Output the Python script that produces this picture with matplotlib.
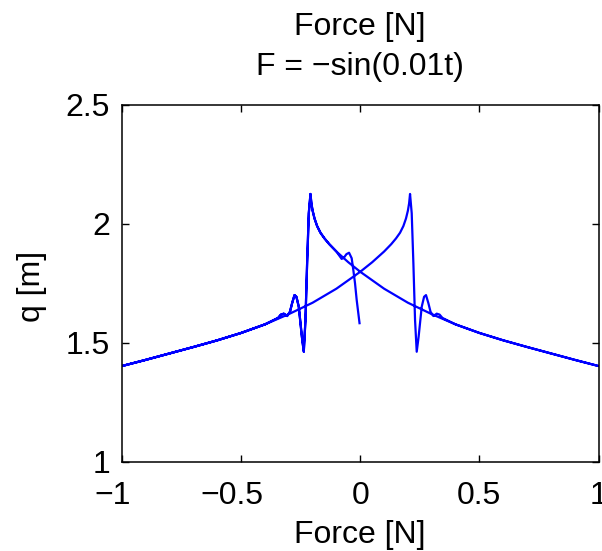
import numpy as np
import matplotlib
matplotlib.use("Agg")
import matplotlib.pyplot as plt
from matplotlib.ticker import FixedLocator, FuncFormatter
from matplotlib.transforms import ScaledTranslation

plt.rcParams['font.family'] = ['Liberation Sans', 'DejaVu Sans']

# Up-sweep branch of the hysteresis loop (force increasing from -1 to 1)
sweep_force = [-1.0, -0.9, -0.8, -0.7, -0.6, -0.5, -0.4, -0.3, -0.2, -0.1,
               0.0, 0.05, 0.1, 0.13, 0.15, 0.167, 0.181, 0.192, 0.200, 0.205,
               0.209, 0.216, 0.223, 0.230, 0.237, 0.245, 0.258, 0.268, 0.276,
               0.286, 0.295, 0.307, 0.321, 0.333, 0.345, 0.4, 0.5, 0.6, 0.7,
               0.8, 0.9, 1.0]
sweep_q = [1.402, 1.428, 1.455, 1.482, 1.510, 1.541, 1.577, 1.620, 1.668, 1.727,
           1.798, 1.838, 1.883, 1.914, 1.938, 1.962, 1.990, 2.022, 2.055, 2.085,
           2.125, 2.044, 1.834, 1.595, 1.462, 1.525, 1.651, 1.693, 1.700,
           1.666, 1.630, 1.612, 1.622, 1.618, 1.604, 1.577, 1.541, 1.510, 1.482,
           1.455, 1.428, 1.402]

# Start-up transient from rest at F = 0
start_force = [-0.003, -0.015, -0.022, -0.029, -0.036, -0.047, -0.058, -0.068, -0.078]
start_q = [1.582, 1.680, 1.750, 1.805, 1.855, 1.878, 1.872, 1.858, 1.852]

x_ticks = [-1, -0.5, 0, 0.5, 1]
y_ticks = [1, 1.5, 2, 2.5]

FS = 23

up_F = np.array(sweep_force)
up_q = np.array(sweep_q)
# Down-sweep is the mirror image of the up-sweep
down_F = -up_F
down_q = up_q.copy()

# First down-sweep joins the branch beyond the start-up transient
first = down_F <= -0.1
path_F = np.concatenate([start_force, down_F[first], up_F, down_F])
path_q = np.concatenate([start_q, down_q[first], up_q, down_q])

fig = plt.figure(figsize=(6.02, 5.51), dpi=100)
ax = fig.add_axes([122 / 602, 1 - 461.7 / 551, (598.5 - 122) / 602, (461.7 - 104.7) / 551])

ax.plot(path_F, path_q, color=(0, 0, 1), lw=1.6, solid_joinstyle='round')

ax.set_xlim(-1, 1)
ax.set_ylim(1, 2.5)
ax.xaxis.set_major_locator(FixedLocator(x_ticks))
ax.yaxis.set_major_locator(FixedLocator(y_ticks))
fmt = FuncFormatter(lambda v, p: ('%g' % v).replace('-', '\u2212'))
ax.xaxis.set_major_formatter(fmt)
ax.yaxis.set_major_formatter(fmt)
ax.tick_params(direction='in', length=5, width=1, top=True, right=True,
               labelsize=FS, colors='black')
ax.tick_params(axis='x', pad=14)
ax.tick_params(axis='y', pad=8.5)
for s in ax.spines.values():
    s.set_linewidth(1.1)
    s.set_color('black')

# Centre negative x labels on their digits, minus sign hanging to the left
minus_shift = ScaledTranslation(-0.292 * FS / 72, 0, fig.dpi_scale_trans)
for tick, val in zip(ax.xaxis.get_major_ticks(), x_ticks):
    if val < 0:
        tick.label1.set_transform(tick.label1.get_transform() + minus_shift)

ax.set_xlabel('Force [N]', fontsize=FS)
ax.xaxis.label.set_va('baseline')
ax.xaxis.set_label_coords(0.5, (461.7 - 543) / 357)
ax.set_ylabel('q [m]', fontsize=FS)
ax.yaxis.label.set_va('center')
ax.yaxis.label.set_ha('center')
ax.yaxis.set_label_coords((32 - 122) / 476.5, 0.49)

cx = 360 / 602
fig.text(cx, 1 - 35 / 551, 'Force [N]', ha='center', va='baseline', fontsize=FS)
fig.text(cx, 1 - 75 / 551, 'F = \u2212sin(0.01t)', ha='center', va='baseline', fontsize=FS)

fig.savefig('out.png', dpi=100)
